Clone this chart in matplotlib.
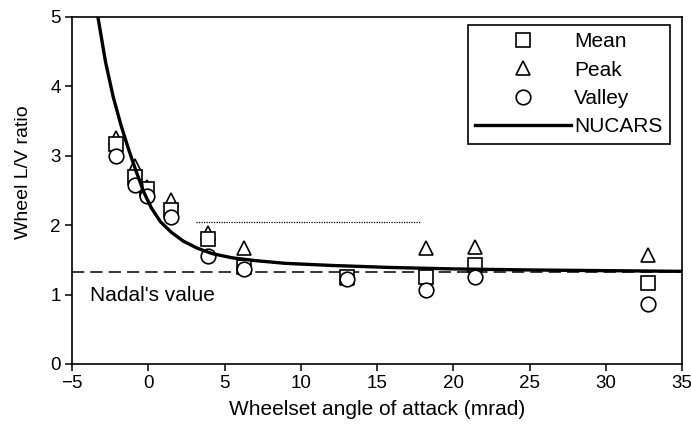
import matplotlib
matplotlib.use("Agg")
import matplotlib.pyplot as plt
from matplotlib.lines import Line2D

plt.rcParams['font.family'] = ['Liberation Sans', 'DejaVu Sans']

# measured L/V ratios per wheelset angle of attack
angle = [-2.1, -0.9, -0.1, 1.5, 3.9, 6.3, 13.0, 18.2, 21.4, 32.8]
mean_lv = [3.17, 2.70, 2.52, 2.22, 1.80, 1.40, 1.25, 1.25, 1.43, 1.16]
peak_lv = [3.25, 2.85, 2.55, 2.37, 1.89, 1.67, 1.24, 1.67, 1.68, 1.57]
valley_lv = [3.00, 2.58, 2.42, 2.12, 1.56, 1.37, 1.22, 1.06, 1.26, 0.87]

# NUCARS simulation curve
nucars_x = [-3.3, -2.8, -2.3, -1.8, -1.3, -0.8, -0.3, 0.2, 0.8, 1.5, 2.3, 3.2,
            4.2, 5.5, 7.0, 9.0, 12.0, 16.0, 20.0, 25.0, 30.0, 35.0]
nucars_y = [5.0, 4.35, 3.85, 3.45, 3.10, 2.78, 2.48, 2.25, 2.05, 1.90, 1.77, 1.67,
            1.59, 1.53, 1.49, 1.45, 1.42, 1.39, 1.37, 1.355, 1.345, 1.335]

nadal_value = 1.33
dotted_y = 2.04
dotted_x = [3.1, 17.9]

fig = plt.figure(figsize=(6.91, 4.30), dpi=100)
ax = fig.add_axes([0.1042, 0.1535, 0.8828, 0.8070])

mk = dict(linestyle='none', markersize=10.5, markerfacecolor='white',
          markeredgecolor='black', markeredgewidth=1.2)
ax.plot(angle, peak_lv, marker='^', zorder=3, **mk)
ax.plot(angle, mean_lv, marker='s', zorder=4, **mk)
ax.plot(angle, valley_lv, marker='o', zorder=5, **mk)
ax.plot(nucars_x, nucars_y, color='black', lw=2.4, zorder=6)

ax.axhline(nadal_value, color='black', lw=1.1, dashes=(8, 4), zorder=2)
ax.plot(dotted_x, [dotted_y, dotted_y], color='black', lw=0.9, linestyle=(0, (1, 1)), zorder=2)
ax.text(-3.85, 0.98, "Nadal's value", fontsize=15, va='center', ha='left')

ax.set_xlim(-5, 35)
ax.set_ylim(0, 5)
ax.set_xticks(range(-5, 40, 5))
ax.set_yticks(range(0, 6))
ax.set_xticklabels(['\u22125'] + [str(v) for v in range(0, 40, 5)])
ax.tick_params(labelsize=13.5, direction='out', length=5, width=1.1, pad=3)
ax.set_xlabel('Wheelset angle of attack (mrad)', fontsize=15, labelpad=6)
ax.set_ylabel('Wheel L/V ratio', fontsize=14)
ax.yaxis.set_label_coords(-0.066, 0.553)
for s in ax.spines.values():
    s.set_linewidth(1.2)

handles = [
    Line2D([], [], marker='s', **mk),
    Line2D([], [], marker='^', **mk),
    Line2D([], [], marker='o', **mk),
    Line2D([], [], color='black', lw=2.4),
]
leg = ax.legend(handles, ['Mean', 'Peak', 'Valley', 'NUCARS'], loc='upper right',
                bbox_to_anchor=(0.98, 0.977), borderaxespad=0, fontsize=15,
                handlelength=4.6, handletextpad=0.15, labelspacing=0.45,
                borderpad=0.35, fancybox=False, framealpha=1)
leg.get_frame().set_edgecolor('black')
leg.get_frame().set_linewidth(1.2)

fig.savefig('out.png', dpi=100)
